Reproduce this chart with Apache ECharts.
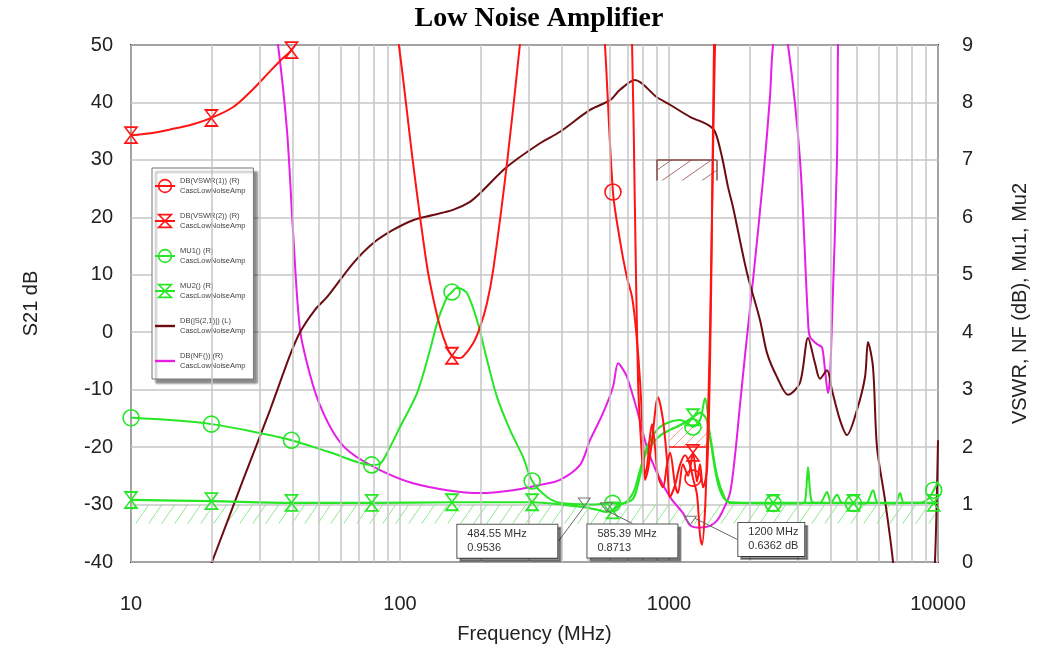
<!DOCTYPE html>
<html><head><meta charset="utf-8">
<script src="https://cdn.jsdelivr.net/npm/echarts@6/dist/echarts.min.js"></script>
<style>html,body{margin:0;padding:0;background:#fff}#c{width:1043px;height:659px}</style>
</head><body><div id="c"></div>
<script>
// ---------------- data ----------------
const chartTitle = 'Low Noise Amplifier';
const designName = 'CascLowNoiseAmp';
const xName = 'Frequency (MHz)';
const leftName = 'S21 dB';
const rightName = 'VSWR, NF (dB), Mu1, Mu2';
const xMin = 10, xMax = 10000;
const leftMin = -40, leftMax = 50, leftStep = 10;
const rightMin = 0, rightMax = 9, rightStep = 1;
const minorFreqs = [20,30,40,50,60,70,80,90,200,300,400,500,600,700,800,900,2000,3000,4000,5000,6000,7000,8000,9000];

const seriesNames = ['DB(VSWR(1)) (R)', 'DB(VSWR(2)) (R)', 'MU1() (R)', 'MU2() (R)', 'DB(|S(2,1)|) (L)', 'DB(NF()) (R)'];

// [frequency MHz, value]
const vswr1 = [[10,14],[300,14],[540,11],[578,9.0],[619,6.44],[657,5.6],[697,4.96],[729,4.61],[754,4.04],[780,3.17],[801,2.12],[814,1.43],[835,1.6],[865,2.12],[910,2.87],[950,2.47],[983,1.78],[1009,1.13],[1053,1.34],[1099,1.69],[1147,1.86],[1197,1.69],[1228,1.46],[1271,1.17],[1304,0.47],[1327,0.3],[1361,0.9],[1385,1.95],[1421,4.04],[1458,7.17],[1483,9.0],[1520,11],[10000,13]];
const vswr1Markers = [[619,6.44],[1228,1.46]];

const vswr2 = [[10,7.43],[12,7.47],[14,7.53],[17,7.62],[19.9,7.73],[24,7.92],[28,8.2],[33,8.55],[36.5,8.76],[39.5,8.91],[43,9.2],[50,10],[60,11],[85,11],[99,9.0],[111.8,6.95],[125.8,5.17],[132.6,4.61],[141,4.09],[149.6,3.74],[156,3.59],[164,3.55],[171,3.57],[187,3.81],[198.4,4.09],[210.6,4.51],[222,5.08],[250,6.95],[279,9.0],[292,10],[350,12],[650,12],[710,10],[729,9.0],[747,6.13],[767,3.17],[787,2.1],[808,1.5],[828,1.65],[850,2.2],[865,2.4],[887,2.0],[910,1.5],[950,1.3],[983,1.7],[1009,1.9],[1053,1.35],[1080,1.2],[1127,1.7],[1177,1.5],[1228,1.9],[1271,1.4],[1304,1.7],[1338,1.3],[1385,1.6],[1421,3.5],[1445,6],[1470,9],[1500,11],[10000,12]];
const vswr2Markers = [[10,7.43],[19.9,7.73],[39.5,8.91],[156,3.59],[1228,1.9]];

const mu1 = [[10,2.51],[13.96,2.47],[19.9,2.40],[27.7,2.28],[39.5,2.12],[54.9,1.91],[78.5,1.69],[84.3,1.71],[91.8,2.0],[100,2.35],[115.7,2.94],[129.3,3.69],[138.4,4.21],[149.6,4.61],[156,4.70],[162,4.77],[168,4.76],[177.5,4.68],[193.3,4.21],[210.6,3.52],[229.5,2.87],[256.4,2.30],[286.6,1.83],[310,1.41],[352,1.13],[393,1.03],[508.6,1.0],[617,1.02],[674.5,1.02],[734.8,1.2],[780,1.6],[828,2.0],[902,2.3],[983,2.42],[1099,2.47],[1197,2.38],[1227,2.35],[1304,2.47],[1361,2.85],[1421,2.18],[1508,1.43],[1588,1.13],[1686,1.04],[2439,1.02],[3069,1.02],[3203,1.05],[3287,1.65],[3401,1.05],[3642,1.03],[3867,1.22],[4001,1.03],[4213,1.17],[4397,1.03],[4849,1.02],[5400,1.02],[5733,1.25],[5984,1.03],[6922,1.02],[7223,1.2],[7475,1.03],[8571,1.03],[9200,1.1],[9640,1.25],[10000,1.4]];
const mu1Markers = [[10,2.51],[19.9,2.40],[39.5,2.12],[78.5,1.69],[156,4.70],[310,1.41],[617,1.02],[1227,2.35],[2439,1.02],[4849,1.02],[9640,1.25]];

const mu2 = [[10,1.08],[19.9,1.06],[39.5,1.03],[78.5,1.03],[156,1.04],[310,1.04],[400,1.0],[484.55,0.9536],[540,0.91],[585.39,0.8713],[617,0.9],[660,1.0],[735,1.1],[780,1.5],[814,1.85],[865,2.05],[926,2.2],[1009,2.3],[1099,2.38],[1227,2.52],[1304,2.6],[1373,2.5],[1421,2.2],[1508,1.5],[1615,1.1],[1686,1.03],[2439,1.03],[4849,1.03],[9640,1.03],[10000,1.03]];
const mu2Markers = [[10,1.08],[19.9,1.06],[39.5,1.03],[78.5,1.03],[156,1.04],[310,1.04],[617,0.9],[1227,2.52],[2439,1.03],[4849,1.03],[9640,1.03]];

const s21 = [[15,-60],[18.05,-45],[20,-40],[26.1,-25.7],[32.9,-13.5],[39,-4],[42.5,0],[48.3,3.9],[53.5,6.1],[66.9,12],[79.4,15.5],[94.2,17.8],[111.8,19.5],[132.7,20.4],[157.4,21.3],[182,22.7],[198.4,24.2],[250,28.8],[331.5,32.9],[393.3,34.9],[508.6,38.7],[603.5,40.4],[657.3,42.2],[747,43.9],[902.5,40.9],[1009,39.6],[1197,37.5],[1396,36.1],[1483,34.9],[1574,30.5],[1657,25.3],[1729,21.8],[1950,10.3],[2180,2.1],[2313,-3.6],[2520,-7.8],[2770,-10.9],[3069,-8.8],[3287,-1.0],[3490,-5.4],[3642,-8.1],[3867,-6.6],[4036,-10.1],[4322,-15.3],[4588,-17.9],[5000,-13.5],[5354,-7.8],[5494,-1.7],[5733,-6.1],[5932,-20],[6353,-29.2],[6804,-40],[7223,-55],[9340,-55],[9745,-40],[10000,-18.8]];

const nf = [[10,14],[30,12],[33.4,9.6],[35.2,9.0],[38,7.52],[40,5.78],[42.5,4.04],[46.3,3.26],[50.4,2.73],[57.3,2.21],[65.2,1.91],[84.3,1.60],[111.8,1.37],[149.6,1.25],[198.4,1.20],[263,1.25],[331.5,1.34],[393.3,1.43],[466.9,1.69],[508.6,2.12],[568.4,2.59],[619.3,3.05],[646.3,3.46],[668.8,3.38],[698.1,3.22],[760.3,2.65],[828.2,2.0],[902.5,1.55],[1009,1.13],[1127,0.85],[1200,0.6362],[1304,0.60],[1421,0.63],[1508,0.72],[1588,0.9],[1686,1.2],[1760,1.86],[1836,2.73],[1917,3.6],[2053,4.91],[2236,6.65],[2374,8.1],[2436,9.0],[2586,9.6],[2770,9.0],[3069,7.0],[3287,4.21],[3343,3.92],[3581,3.78],[3706,3.74],[3802,3.34],[3900,2.94],[3967,3.22],[4036,4.21],[4213,7.0],[4250,9.0],[4397,12],[10000,12]];

// marker read-outs
const markerFreqs = [484.55, 585.39, 1200];
const markerVals = [0.9536, 0.8713, 0.6362];
const markerUnits = ['', '', ' dB'];

// goals: [fStart, fEnd, level]
const muGoal = [10, 10000, 1];
const vswrGoal = [1000, 1400, 2];
const s21Goal = [900, 1500, 30];

// ---------------- style ----------------
const FONT = 'Liberation Sans, Arial, sans-serif';
const C = { red:'#ff1414', green:'#26e626', brown:'#6c0c10', mag:'#e61ee6', grid:'#c6c6c6' };
const hourglass = 'path://M0,0L10,0L0,14L10,14Z';
const lineIcon = 'path://M0,0L20,0L20,2.4L0,2.4Z';
const markerLabelDx = [-127, -19, 48];
const markerLabelDy = [39, 34, 19];
const markerBoxW = [80, 70, 46];

function hatch(w, h, color, lw) {
  const c = document.createElement('canvas');
  c.width = w; c.height = h;
  const g = c.getContext('2d');
  g.strokeStyle = color; g.lineWidth = lw;
  g.beginPath(); g.moveTo(0, h); g.lineTo(w, 0); g.stroke();
  return { image: c, repeat: 'repeat' };
}

const chart = echarts.init(document.getElementById('c'), null, { renderer: 'canvas' });

const lineBase = { type: 'line', smooth: 0.3, showSymbol: false, silent: true, yAxisIndex: 1, z: 3 };
function markerSeries(name, data, symbol, size, color) {
  return { type: 'scatter', name, data, yAxisIndex: 1, symbol, symbolSize: size, silent: true, z: 5,
    itemStyle: { color: 'rgba(255,255,255,0)', borderColor: color, borderWidth: 1.6, opacity: 1 } };
}

const option = {
  animation: false,
  backgroundColor: '#fff',
  title: { text: chartTitle, left: 534, top: 0, textAlign: 'center',
    textStyle: { fontFamily: 'Liberation Serif, Times New Roman, serif', fontWeight: 'bold', fontSize: 28, color: '#000' } },
  grid: { left: 131, right: 105, top: 45, bottom: 97, show: true, borderColor: '#3c3c3c', borderWidth: 2, backgroundColor: '#fff' },
  xAxis: { type: 'log', logBase: 10, min: xMin, max: xMax,
    name: xName, nameLocation: 'middle', nameGap: 62,
    nameTextStyle: { fontSize: 20, color: '#222', fontFamily: FONT },
    axisLine: { show: false }, axisTick: { show: false },
    axisLabel: { fontSize: 20, margin: 32, color: '#222', fontFamily: FONT, formatter: v => String(Math.round(v)) },
    splitLine: { show: true, lineStyle: { color: C.grid, width: 1.5 } } },
  yAxis: [
    { type: 'value', min: leftMin, max: leftMax, interval: leftStep, position: 'left',
      name: leftName, nameLocation: 'middle', nameGap: 90, nameRotate: 90,
      nameTextStyle: { fontSize: 20, color: '#222', fontFamily: FONT },
      axisLine: { show: false }, axisTick: { show: false },
      axisLabel: { fontSize: 20, margin: 18, color: '#222', fontFamily: FONT },
      splitLine: { show: true, lineStyle: { color: C.grid, width: 1.5 } } },
    { type: 'value', min: rightMin, max: rightMax, interval: rightStep, position: 'right',
      name: rightName, nameLocation: 'middle', nameGap: 72, nameRotate: 90,
      nameTextStyle: { fontSize: 20, color: '#222', fontFamily: FONT },
      axisLine: { show: false }, axisTick: { show: false },
      axisLabel: { fontSize: 20, margin: 24, color: '#222', fontFamily: FONT },
      splitLine: { show: false } }
  ],
  legend: {
    data: seriesNames.map((n, i) => i >= 4 ? { name: n, icon: lineIcon } : n),
    orient: 'vertical', left: 152, top: 168, selectedMode: false,
    padding: [8, 8, 8, 2], itemWidth: 20, itemHeight: 16, itemGap: 15,
    backgroundColor: '#fff', borderColor: '#777', borderWidth: 1,
    shadowColor: 'rgba(0,0,0,0.45)', shadowOffsetX: 4, shadowOffsetY: 4, shadowBlur: 2,
    textStyle: { fontSize: 7.5, lineHeight: 10, color: '#444', fontFamily: FONT },
    itemStyle: { borderWidth: 1.6 },
    formatter: n => n + '\n' + designName
  },
  series: [
    // minor log grid lines
    { type: 'line', data: [], silent: true, z: 1,
      markLine: { silent: true, symbol: ['none', 'none'], label: { show: false }, animation: false,
        lineStyle: { color: C.grid, width: 1.5, type: 'solid' },
        data: minorFreqs.map(f => ({ xAxis: f })) } },
    { ...lineBase, name: seriesNames[5], data: nf, lineStyle: { width: 2, color: C.mag }, itemStyle: { color: C.mag }, symbol: 'none' },
    { ...lineBase, name: seriesNames[4], data: s21, yAxisIndex: 0, lineStyle: { width: 2, color: C.brown }, itemStyle: { color: C.brown }, symbol: 'none',
      markArea: { silent: true, itemStyle: { color: hatch(20, 14, '#a86a6a', 1) },
        data: [[{ xAxis: s21Goal[0], yAxis: s21Goal[2] }, { xAxis: s21Goal[1], yAxis: s21Goal[2] - 3.6 }]] },
      markLine: { silent: true, symbol: ['none', 'none'], label: { show: false }, lineStyle: { color: '#8a4a4a', width: 1.5, type: 'solid' },
        data: [
          [{ coord: [s21Goal[0], s21Goal[2]] }, { coord: [s21Goal[1], s21Goal[2]] }],
          [{ coord: [s21Goal[0], s21Goal[2]] }, { coord: [s21Goal[0], s21Goal[2] - 3.6] }],
          [{ coord: [s21Goal[1], s21Goal[2]] }, { coord: [s21Goal[1], s21Goal[2] - 3.6] }]
        ] } },
    { ...lineBase, name: seriesNames[3], data: mu2, lineStyle: { width: 2.2, color: C.green },
      symbol: hourglass, symbolSize: [10, 14], itemStyle: { color: 'rgba(255,255,255,0)', borderColor: C.green, borderWidth: 1.6 },
      markArea: { silent: true, itemStyle: { color: hatch(13, 19, '#8fe68f', 1) },
        data: [[{ xAxis: muGoal[0], yAxis: muGoal[2] }, { xAxis: muGoal[1], yAxis: muGoal[2] - 0.33 }]] } },
    { ...lineBase, name: seriesNames[2], data: mu1, lineStyle: { width: 2, color: C.green },
      symbol: 'circle', symbolSize: 14, itemStyle: { color: 'rgba(255,255,255,0)', borderColor: C.green, borderWidth: 1.6 } },
    { ...lineBase, name: seriesNames[1], data: vswr2, lineStyle: { width: 2, color: C.red },
      symbol: hourglass, symbolSize: [10, 14], itemStyle: { color: 'rgba(255,255,255,0)', borderColor: C.red, borderWidth: 1.6 } },
    { ...lineBase, name: seriesNames[0], data: vswr1, lineStyle: { width: 2, color: C.red },
      symbol: 'circle', symbolSize: 14, itemStyle: { color: 'rgba(255,255,255,0)', borderColor: C.red, borderWidth: 1.6 },
      markArea: { silent: true, itemStyle: { color: hatch(10, 10, '#f09a9a', 1) },
        data: [[{ xAxis: vswrGoal[0], yAxis: vswrGoal[2] }, { xAxis: vswrGoal[1], yAxis: vswrGoal[2] + 0.35 }]] },
      markLine: { silent: true, symbol: ['none', 'none'], label: { show: false }, lineStyle: { color: C.red, width: 1.5, type: 'solid' },
        data: [[{ coord: [vswrGoal[0], vswrGoal[2]] }, { coord: [vswrGoal[1], vswrGoal[2]] }]] } },
    markerSeries(seriesNames[3], mu2Markers, hourglass, [12, 16], C.green),
    markerSeries(seriesNames[2], mu1Markers, 'circle', 16, C.green),
    markerSeries(seriesNames[1], vswr2Markers, hourglass, [12, 16], C.red),
    markerSeries(seriesNames[0], vswr1Markers, 'circle', 16, C.red),
    { type: 'scatter', name: 'markers', yAxisIndex: 1, z: 10, silent: true,
      data: markerFreqs.map((f, i) => ({ value: [f, markerVals[i]], label: { width: markerBoxW[i] } })),
      symbol: 'path://M0,0L12,0L6,10Z', symbolSize: [12, 10], symbolOffset: [0, '-50%'], symbolKeepAspect: true,
      itemStyle: { color: 'rgba(255,255,255,0)', borderColor: '#777', borderWidth: 1, opacity: 1 },
      label: { show: true, position: 'inside', align: 'left', verticalAlign: 'middle', opacity: 1,
        formatter: p => p.value[0] + ' MHz\n' + p.value[1].toFixed(4) + markerUnits[p.dataIndex],
        fontSize: 11, lineHeight: 14, color: '#333', fontFamily: FONT,
        backgroundColor: '#fff', borderColor: '#555', borderWidth: 1, padding: [3, 10, 2, 10],
        shadowColor: 'rgba(0,0,0,0.4)', shadowOffsetX: 3, shadowOffsetY: 3, shadowBlur: 0 },
      labelLayout: p => ({ dx: markerLabelDx[p.dataIndex], dy: markerLabelDy[p.dataIndex] }),
      labelLine: { show: true, lineStyle: { color: '#666', width: 1, opacity: 1 } } }
  ]
};
chart.setOption(option);
</script>
</body></html>
